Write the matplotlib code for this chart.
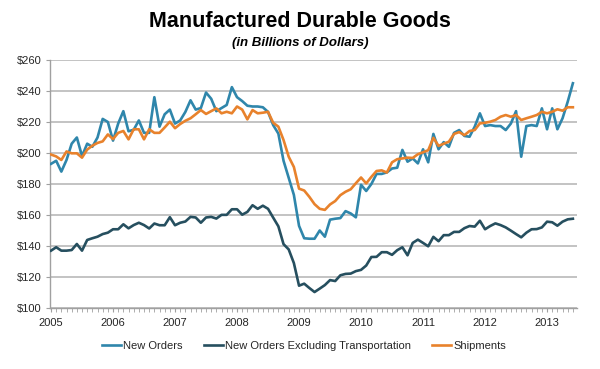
import matplotlib
matplotlib.use("Agg")
import matplotlib.pyplot as plt
import numpy as np

plt.rcParams['font.family'] = ['Liberation Sans', 'DejaVu Sans']

years = ['2005', '2006', '2007', '2008', '2009', '2010', '2011', '2012', '2013']
y_ticks = [100, 120, 140, 160, 180, 200, 220, 240, 260]

# Monthly values, Jan 2005 - Jun 2013 (billions of dollars)
new_orders = [
    193, 195, 188, 195.5, 206, 210, 198, 206, 204, 210, 222, 220,
    208, 219, 227, 214, 215, 221, 213, 213, 236, 217, 225, 228,
    219, 221, 226.5, 234, 228, 229, 239, 235, 227, 229, 231, 242.5,
    236, 233.5, 230.5, 230, 230, 229.5, 226.5, 218, 212.5, 195, 184, 173,
    153, 145, 144.7, 144.7, 150, 146, 157, 157.6, 158, 162.5, 161, 158.5,
    179.5, 175.5, 180, 186.5, 186.5, 187.5, 190, 190.5, 202, 194.4, 196.5, 193.3,
    202.4, 194, 212.3, 202.4, 207, 204, 213, 214.8, 211, 210.5, 217, 225.6,
    217.4, 218, 217.4, 217.4, 214.8, 219, 227, 197.6, 217.4, 218, 217.4, 228.8,
    215.3, 228.8, 215.3, 222.4, 233.1, 245,
]
ex_transport = [
    137, 139.2, 137, 137, 137.4, 141.3, 137, 143.9, 145, 146, 147.7, 148.6,
    150.8, 150.8, 154, 151.4, 153.5, 155, 153.5, 151.3, 154.5, 153.4, 153.4, 158.6,
    153.4, 155, 155.8, 158.8, 158.4, 155, 158.4, 158.8, 157.7, 160.1, 160.1, 163.7,
    163.7, 160.2, 162, 166.3, 164, 166, 164, 158.3, 152.7, 141.2, 137.8, 129,
    114.4, 115.7, 112.9, 110.3, 112.5, 114.8, 118, 117.4, 121.1, 122, 122.2, 123.8,
    124.6, 127.4, 132.9, 133, 136, 136, 134.3, 137.3, 139.2, 134, 142, 144.1,
    142, 139.8, 145.9, 143.1, 147, 147, 149.1, 149.1, 151.5, 152.9, 152.5, 156.3,
    150.8, 152.9, 154.6, 153.5, 152, 149.9, 147.7, 145.6, 148.6, 150.8, 150.9, 152,
    155.7, 155.3, 153.1, 155.7, 157.2, 157.6,
]
shipments = [
    199, 197.8, 195.5, 201, 199.8, 199.8, 197, 202.2, 204.7, 206.5, 207.5, 212,
    209, 213, 214.2, 208.8, 215.3, 215.3, 208.8, 215.3, 213, 213, 216.5, 220.2,
    216, 218.7, 220.8, 222.4, 225, 227.7, 225.2, 227, 228.8, 225.6, 226.6, 225.6,
    230, 228, 221.7, 227.7, 225.6, 226, 226.6, 219.5, 217, 208.4, 197.6, 191,
    177, 175.8, 171.7, 167, 164, 163.3, 166.8, 169, 172.8, 175, 176.6, 180.5,
    184.2, 180.4, 184.6, 188.4, 188.8, 187.4, 194, 196, 196.5, 197, 196.8, 199.2,
    200.5, 201.8, 209.8, 204.6, 206, 207.3, 212.3, 213.5, 211.5, 214.2, 214.8, 219.1,
    219.5, 220.2, 221.3, 223.4, 224.5, 223.4, 224.5, 221.3, 222.4, 223.4, 224.5, 226.6,
    225.6, 226.6, 228.2, 227.3, 229.5, 229.5,
]

months = np.arange(len(new_orders))

fig = plt.figure(figsize=(6.0, 3.69), dpi=100)
ax = fig.add_axes([0.0833, 0.1653, 0.8784, 0.6721])

c_new = '#2f86ab'
c_ex = '#264f5f'
c_ship = '#e8822c'

ax.plot(months, new_orders, color=c_new, lw=1.9, label='New Orders', zorder=3)
ax.plot(months, ex_transport, color=c_ex, lw=1.9, label='New Orders Excluding Transportation', zorder=3)
ax.plot(months, shipments, color=c_ship, lw=1.9, label='Shipments', zorder=4)

ax.set_xlim(-0.2, 101.8)
ax.set_ylim(100, 260)
ax.set_yticks(y_ticks)
ax.set_yticklabels([f'${v}' for v in y_ticks])
ax.set_xticks(np.arange(len(years)) * 12)
ax.set_xticklabels(years)
ax.set_xticks(np.arange(0, 102), minor=True)

ax.grid(axis='y', color='#b3b3b3', lw=1.1, zorder=0)
for s in ['top', 'right']:
    ax.spines[s].set_visible(False)
for s in ['left', 'bottom']:
    ax.spines[s].set_color('#a0a0a0')
    ax.spines[s].set_linewidth(1.0)

ax.tick_params(axis='y', length=3, color='#a0a0a0', labelsize=8, labelcolor='#262626', pad=3)
ax.tick_params(axis='x', which='both', length=3, color='#a0a0a0', labelsize=8, labelcolor='#262626', pad=4)

fig.text(0.5, 0.942, 'Manufactured Durable Goods', ha='center', va='center',
         fontsize=15.5, fontweight='bold', color='#000000')
fig.text(0.5, 0.884, '(in Billions of Dollars)', ha='center', va='center',
         fontsize=9.5, fontweight='bold', fontstyle='italic', color='#000000')

leg = fig.legend(loc='center', bbox_to_anchor=(0.507, 0.062), ncol=3, frameon=False,
                 fontsize=8, handlelength=1.7, handletextpad=0.2, columnspacing=1.9)
for t in leg.get_texts():
    t.set_color('#262626')

fig.savefig('out.png', dpi=100)
